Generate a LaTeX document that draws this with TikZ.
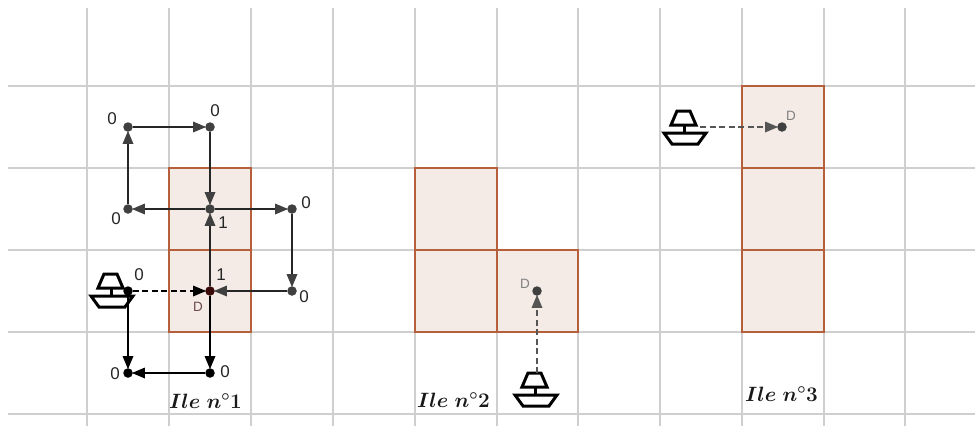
\documentclass[tikz,border=0pt]{standalone}
\usepackage{fontspec}
\setsansfont{Liberation Sans}
\usetikzlibrary{arrows.meta}
\definecolor{gridc}{HTML}{CFCFCF}
\definecolor{islef}{HTML}{F4EAE6}
\definecolor{isled}{HTML}{B5603A}
\definecolor{dotc}{HTML}{404040}
\definecolor{dgray}{HTML}{555555}
\definecolor{dotd}{HTML}{3A0A0A}
\definecolor{dlabel}{HTML}{6A4A4A}
\tikzset{
 gridline/.style={gridc,line width=2.2pt},
 islecell/.style={draw=isled,fill=islef,line width=2.2pt},
 pt/.style={circle,fill=#1,inner sep=0pt,minimum size=9.5pt},
 pt/.default=dotc,
 lbl/.style={font=\sffamily\fontsize{17}{19}\selectfont,text=black!85,inner sep=0pt},
 dlbl/.style={font=\sffamily\fontsize{13.5}{15}\selectfont,text=#1,inner sep=0pt},
 dlbl/.default=gray,
 conn/.style={draw=black!85,line width=2.6pt,-{Triangle[length=13pt,width=11pt,color=dotc,fill=dotc,line width=0pt]},shorten >=-1pt},
 connb/.style={draw=black,line width=2.6pt,-{Triangle[length=13pt,width=11pt,color=black,fill=black,line width=0pt]},shorten >=-1pt},
 dconn/.style={draw=#1,line width=2.4pt,dash pattern=on 6pt off 3.5pt,-{Triangle[length=13pt,width=11pt,color=#1,fill=#1,line width=0pt]},shorten >=-1pt},
 dconn/.default=dgray,
 ilelbl/.style={font=\fontsize{21}{24}\selectfont\boldmath,inner sep=0pt,text=black!90},
 boatline/.style={black,line width=3pt,line join=miter}
}
\newcommand{\boatshape}[2]{%
 \begin{scope}[shift={(#1,#2)}]
  \draw[boatline] (-8,-16)--(5,-16)--(11,-2)--(-14,-2)--cycle;
  \draw[boatline] (-1,-2)--(-1,5);
  \draw[boatline] (-21,6)--(21,6)--(13,17)--(-13,17)--cycle;
 \end{scope}}
\begin{document}
\begin{tikzpicture}[x=1pt,y=-1pt]
\useasboundingbox (0,0) rectangle (975,426);
\fill[white] (0,0) rectangle (975,426);
% grid
\foreach \gx in {87,169,251,333,415,497,578,660,742,824,905}
  \draw[gridline] (\gx,8)--(\gx,426);
\foreach \gy in {86,168,250,332,414}
  \draw[gridline] (8,\gy)--(975,\gy);
% islands
\draw[islecell] (169,168) rectangle (251,250);
\draw[islecell] (169,250) rectangle (251,332);
\draw[islecell] (415,168) rectangle (497,250);
\draw[islecell] (415,250) rectangle (497,332);
\draw[islecell] (497,250) rectangle (578,332);
\draw[islecell] (742,86) rectangle (824,168);
\draw[islecell] (742,168) rectangle (824,250);
\draw[islecell] (742,250) rectangle (824,332);
% points
\node[pt] (a) at (128,127) {};
\node[pt] (b) at (210,127) {};
\node[pt] (c) at (128,209) {};
\node[pt] (e) at (210,209) {};
\node[pt] (f) at (292,209) {};
\node[pt] (g) at (292,291) {};
\node[pt=dotd] (d) at (210,291) {};
\node[pt=black] (h) at (210,373) {};
\node[pt=black] (i) at (128,373) {};
\node[pt=black] (s) at (128,291) {};
\node[pt] (d2) at (537,291) {};
\node[pt] (d3) at (782,127) {};
% boats
\boatshape{112}{290}
\boatshape{536}{389}
\boatshape{685}{127}
\coordinate (b2) at (537,373);
\coordinate (b3) at (700,127);
% connectors
\draw[conn] (a)--(b);
\draw[conn] (c)--(a);
\draw[conn] (b)--(e);
\draw[conn] (e)--(c);
\draw[conn] (e)--(f);
\draw[conn] (f)--(g);
\draw[conn] (g)--(d);
\draw[conn] (d)--(e);
\draw[connb] (d)--(h);
\draw[connb] (h)--(i);
\draw[connb] (s)--(i);
\draw[dconn=black] (s)--(d);
\draw[dconn] (b2)--(d2);
\draw[dconn] (b3)--(d3);
% labels
\node[lbl] (l1) at (112,119) {0};
\node[lbl] (l2) at (215,111) {0};
\node[lbl] (l3) at (116,219) {0};
\node[lbl] (l4) at (306,203) {0};
\node[lbl] (l5) at (223,223) {1};
\node[lbl] (l6) at (221,275) {1};
\node[lbl] (l7) at (139,275) {0};
\node[lbl] (l8) at (304,297) {0};
\node[lbl] (l9) at (115,374) {0};
\node[lbl] (l10) at (225,372) {0};
\node[dlbl=dlabel] (dl1) at (198,307) {D};
\node[dlbl] (dl2) at (525,284) {D};
\node[dlbl] (dl3) at (791,116) {D};
\node[ilelbl] (t1) at (205.5,401) {$Ile\ n^\circ 1$};
\node[ilelbl] (t2) at (453.5,400) {$Ile\ n^\circ 2$};
\node[ilelbl] (t3) at (781.5,394) {$Ile\ n^\circ 3$};
\end{tikzpicture}
\end{document}
